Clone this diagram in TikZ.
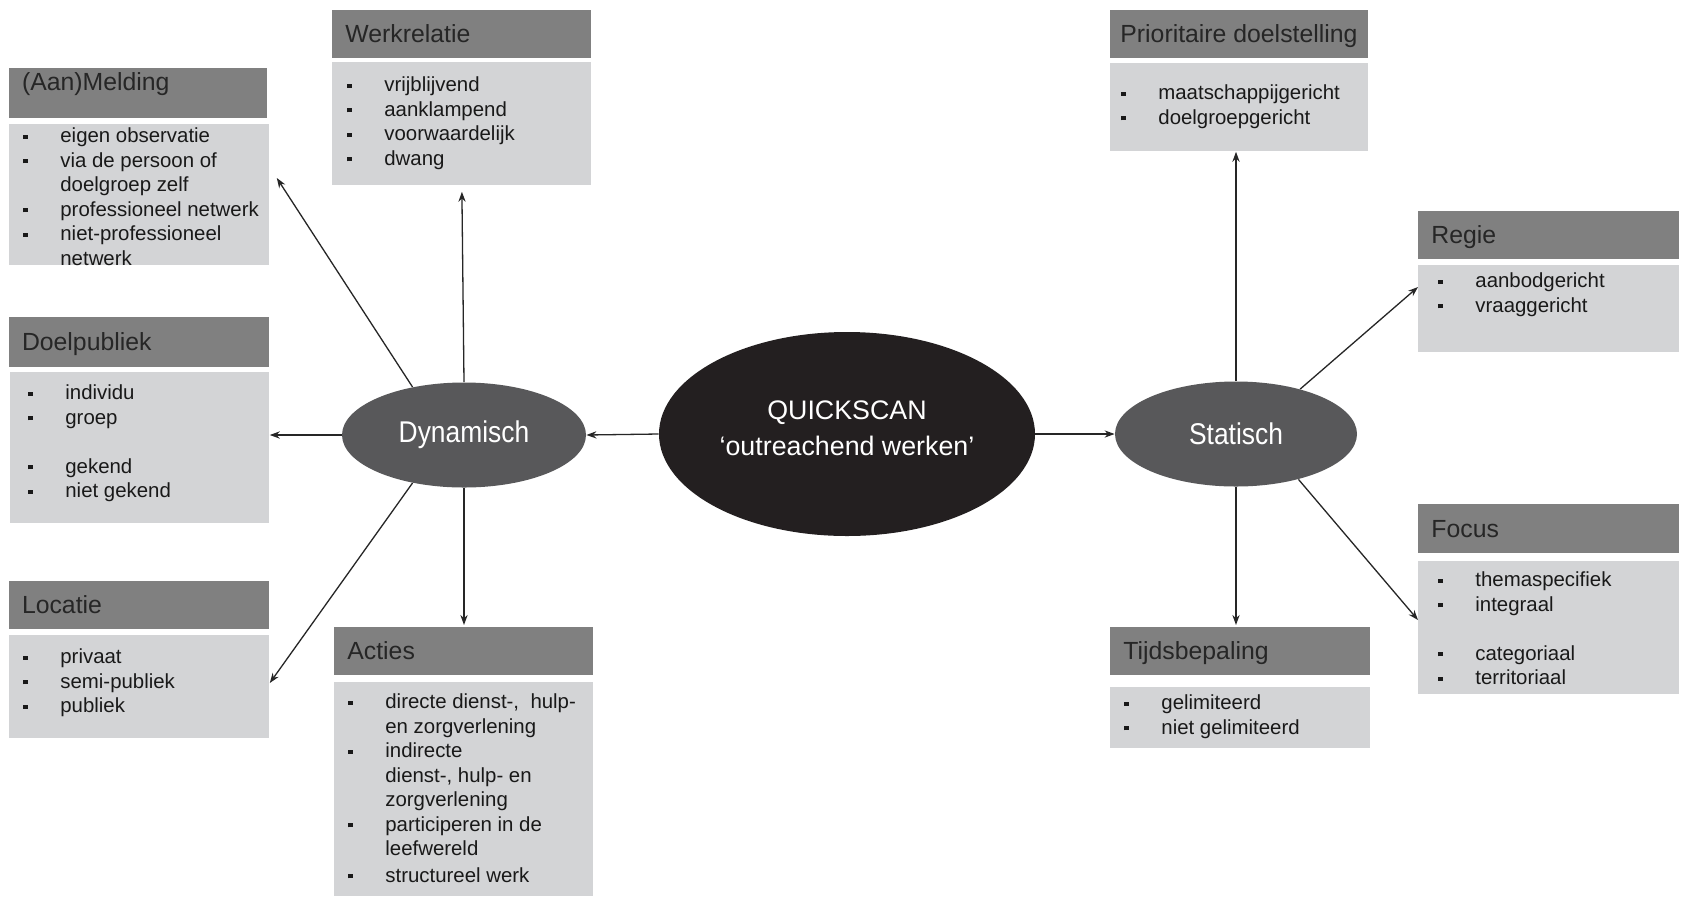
\documentclass[tikz,border=0pt]{standalone}
\usepackage{fontspec}
\setmainfont{Liberation Sans}
\newfontfamily\narrowsans{Liberation Sans}[FakeStretch=0.88]
\usetikzlibrary{shapes.geometric,arrows.meta,calc}
\definecolor{hdrgray}{RGB}{128,128,128}
\definecolor{bodygray}{RGB}{211,212,214}
\definecolor{ellgray}{RGB}{88,88,90}
\definecolor{ellblack}{RGB}{35,31,32}
\definecolor{hdrtext}{RGB}{38,38,38}
\definecolor{bodytext}{RGB}{25,25,25}
\newcommand\hlab[2]{\makebox[#1][l]{#2}}
\newcommand\bu{\makebox[18.5pt][l]{\rule[2pt]{2.2pt}{2.2pt}}}
\newcommand\ct{\makebox[18.5pt][l]{}}
\newcommand\fs{\rule{0pt}{8pt}}
\begin{document}
\begin{tikzpicture}[x=0.5pt,y=-0.5pt,
  hdr/.style 2 args={rectangle, fill=hdrgray, anchor=north west, inner xsep=6.5pt, inner ysep=0pt,
    minimum width=#1, minimum height=#2, text=hdrtext, font=\fontsize{12.4}{14}\selectfont,
    text height=11pt, text depth=2.6pt},
  bdy/.style 2 args={rectangle, fill=bodygray, anchor=north west, inner sep=0pt, minimum width=#1, minimum height=#2},
  txt/.style={anchor=north west, inner sep=0pt, align=left, text=bodytext, font=\fontsize{10.2}{12.25}\selectfont},
  ell/.style={ellipse, inner sep=0pt, fill=ellgray, text=white, font=\narrowsans\fontsize{15}{18}\selectfont},
  arr/.style={draw=black!85, line width=0.65pt, -{Stealth[length=5pt,width=3.6pt]}}]
\useasboundingbox (0,0) rectangle (1681,901);
\fill[white] (0,0) rectangle (1681,901);

% (Aan)Melding
\node[hdr={129.2pt}{25.25pt}, text depth=13.6pt] (mel-h) at (8.6,67.5) {\hlab{116.2pt}{(Aan)Melding}};
\node[bdy={130.2pt}{70.5pt}] (mel-b) at (8.6,124) {};
\node[txt] (mel-t) at (23,126.5) {\fs\bu eigen observatie\\ \bu via de persoon of\\ \ct doelgroep zelf\\ \bu professioneel netwerk\\ \bu niet-professioneel\\ \ct netwerk};

% Werkrelatie
\node[hdr={129.5pt}{24.2pt}] (wer-h) at (332,9.6) {\hlab{116.5pt}{Werkrelatie}};
\node[bdy={129.5pt}{61.5pt}] (wer-b) at (332,62) {};
\node[txt] (wer-t) at (347,75.5) {\fs\bu vrijblijvend\\ \bu aanklampend\\ \bu voorwaardelijk\\ \bu dwang};

% Doelpubliek
\node[hdr={130.2pt}{25pt}] (doe-h) at (8.6,317) {\hlab{117.2pt}{Doelpubliek}};
\node[bdy={129.5pt}{75.5pt}] (doe-b) at (10,372) {};
\node[txt] (doe-t) at (28,383.5) {\fs\bu individu\\ \bu groep\\[12.25pt] \bu gekend\\ \bu niet gekend};

% Locatie
\node[hdr={130.2pt}{24pt}] (loc-h) at (8.6,581) {\hlab{117.2pt}{Locatie}};
\node[bdy={130.2pt}{51.5pt}] (loc-b) at (8.6,635) {};
\node[txt] (loc-t) at (23,647.5) {\fs\bu privaat\\ \bu semi-publiek\\ \bu publiek};

% Acties
\node[hdr={129.5pt}{24pt}] (act-h) at (334,627) {\hlab{116.5pt}{Acties}};
\node[bdy={129.5pt}{107pt}] (act-b) at (334,682) {};
\node[txt] (act-t) at (348,692.5) {\fs\bu directe dienst-,\ \ hulp-\\ \ct en zorgverlening\\ \bu indirecte\\ \ct dienst-, hulp- en\\ \ct zorgverlening\\ \bu participeren in de\\ \ct leefwereld\\[1pt] \bu structureel werk};

% Prioritaire doelstelling
\node[hdr={129pt}{24.2pt}, inner xsep=5pt] (pri-h) at (1110,9.6) {\hlab{119pt}{Prioritaire doelstelling}};
\node[bdy={129pt}{44pt}] (pri-b) at (1110,63) {};
\node[txt] (pri-t) at (1121,83.5) {\fs\bu maatschappijgericht\\ \bu doelgroepgericht};

% Regie
\node[hdr={130.5pt}{24pt}] (reg-h) at (1418,211) {\hlab{117.5pt}{Regie}};
\node[bdy={130.5pt}{43.5pt}] (reg-b) at (1418,265) {};
\node[txt] (reg-t) at (1438,271.5) {\fs\bu aanbodgericht\\ \bu vraaggericht};

% Focus
\node[hdr={130.5pt}{24.5pt}] (foc-h) at (1418,504) {\hlab{117.5pt}{Focus}};
\node[bdy={130.5pt}{66.5pt}] (foc-b) at (1418,561) {};
\node[txt] (foc-t) at (1438,570.5) {\fs\bu themaspecifiek\\ \bu integraal\\[12.25pt] \bu categoriaal\\ \bu territoriaal};

% Tijdsbepaling
\node[hdr={130pt}{24pt}] (tij-h) at (1110,627) {\hlab{117pt}{Tijdsbepaling}};
\node[bdy={130pt}{30.5pt}] (tij-b) at (1110,687) {};
\node[txt] (tij-t) at (1124,693.5) {\fs\bu gelimiteerd\\ \bu niet gelimiteerd};

% Ellipses
\node[ell, minimum width=122pt, minimum height=52.5pt] (dyn) at (464,435) {Dynamisch};
\node[ell, fill=ellblack, minimum width=188pt, minimum height=102pt, align=center, text depth=6pt,
      font=\fontsize{13.4}{18}\selectfont] (qs) at (847,434) {QUICKSCAN\\‘outreachend werken’};
\node[ell, minimum width=121pt, minimum height=52.5pt] (sta) at (1236,434) {Statisch};

% Connectors
\draw[arr] (qs.west) -- (dyn.east);
\draw[arr] (qs.east) -- (sta.west);
\draw[arr] (dyn.137) -- ([xshift=3.5pt,yshift=-27pt]mel-b.north east);
\draw[arr] (dyn.north) -- ([yshift=-3pt]wer-b.south);
\draw[arr] (dyn.west) -- (dyn.west -| doe-b.east);
\draw[arr] (dyn.223) -- ([yshift=-24pt]loc-b.north east);
\draw[arr] (dyn.south) -- ([yshift=1pt]dyn.south |- act-h.north);
\draw[arr] (sta.north) -- (sta.north |- pri-b.south);
\draw[arr] (sta.35) -- ([yshift=-11pt]reg-b.north west);
\draw[arr] (sta.324) -- ([yshift=-29.5pt]foc-b.north west);
\draw[arr] (sta.south) -- ([yshift=1pt]sta.south |- tij-h.north);
\end{tikzpicture}
\end{document}
